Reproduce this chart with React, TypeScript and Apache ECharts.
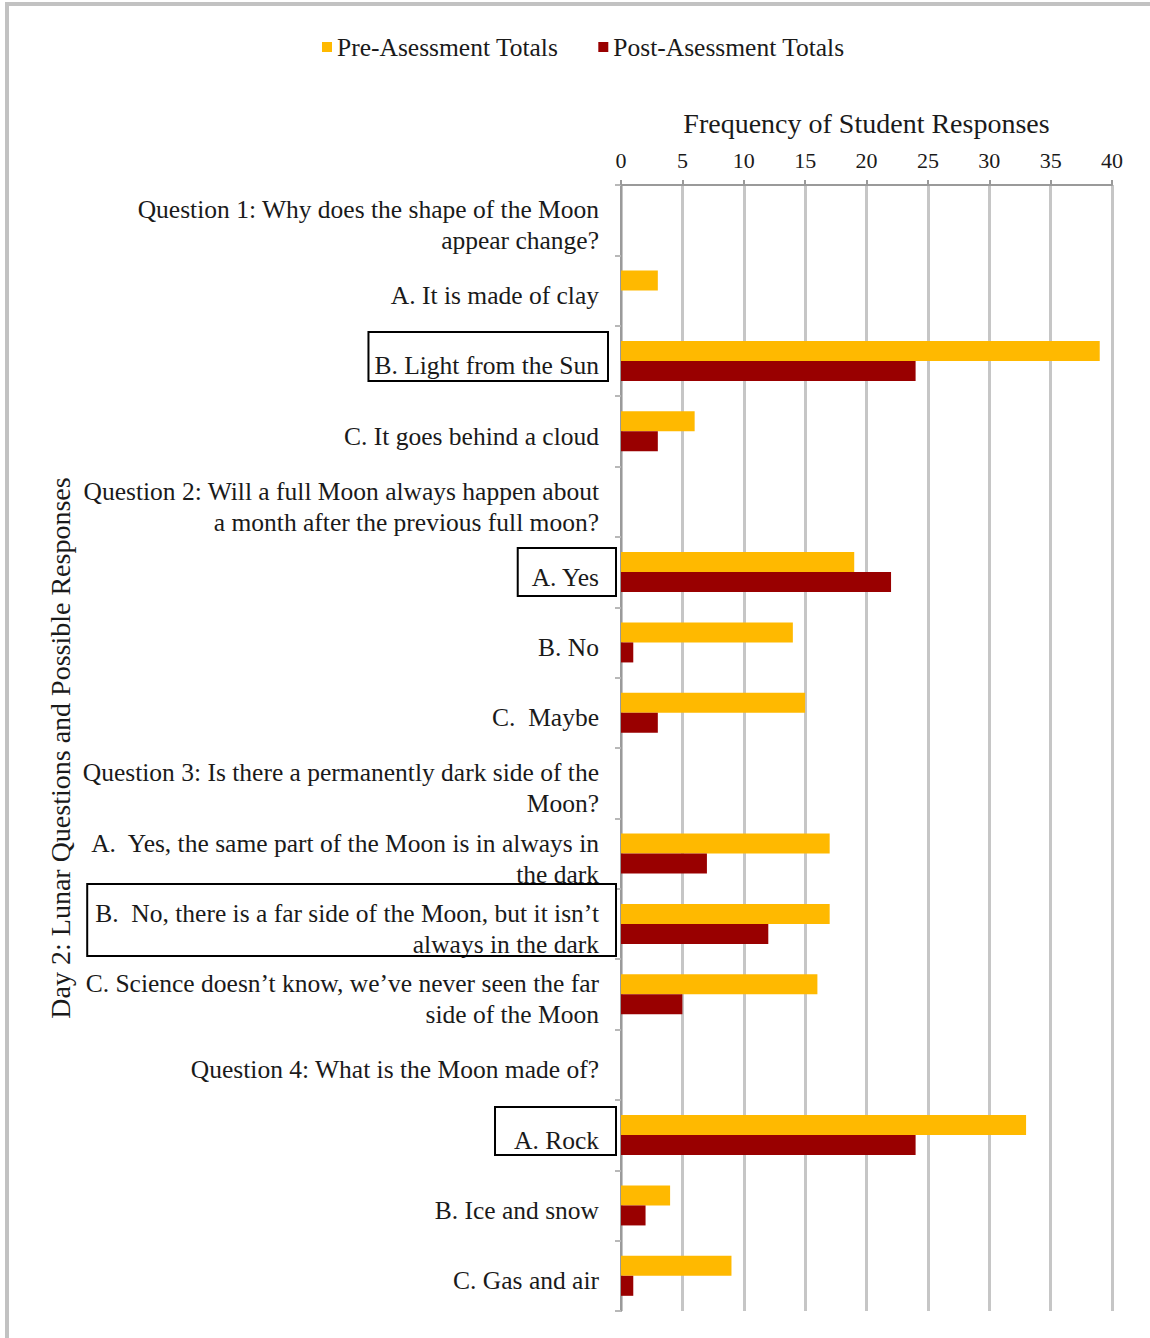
import React, { useEffect, useRef } from "react";
import * as echarts from "echarts";

const categories = [
  "Question 1: Why does the shape of the Moon\nappear change?",
  "A. It is made of clay",
  "B. Light from the Sun",
  "C. It goes behind a cloud",
  "Question 2: Will a full Moon always happen about\na month after the previous full moon?",
  "A. Yes",
  "B. No",
  "C.  Maybe",
  "Question 3: Is there a permanently dark side of the\nMoon?",
  "A.  Yes, the same part of the Moon is in always in\nthe dark",
  "B.  No, there is a far side of the Moon, but it isn’t\nalways in the dark",
  "C. Science doesn’t know, we’ve never seen the far\nside of the Moon",
  "Question 4: What is the Moon made of?",
  "A. Rock",
  "B. Ice and snow",
  "C. Gas and air",
];

const preTotals = [0, 3, 39, 6, 0, 19, 14, 15, 0, 17, 17, 16, 0, 33, 4, 9];
const postTotals = [0, 0, 24, 3, 0, 22, 1, 3, 0, 7, 12, 5, 0, 24, 2, 1];

const seriesNames = ["Pre-Asessment Totals", "Post-Asessment Totals"];
const xAxisTitle = "Frequency of Student Responses";
const yAxisTitle = "Day 2: Lunar Questions and Possible Responses";
const xMin = 0;
const xMax = 40;
const xStep = 5;

// categories whose labels are boxed (correct answers)
const boxedCategories = [2, 5, 10, 13];
// box styling around each boxed label
const boxPadLeft = [6, 13, 8, 19];
const boxGapRight = [13, 5, 5, 5];
const boxTopOffset = [-29, -24, -40, -28];
const boxHeight = [49, 48, 72, 48];

const FONT = "Liberation Serif";
const TEXT = "#1a1a1a";

export default function App() {
  const ref = useRef<HTMLDivElement>(null);

  useEffect(() => {
    const chart = echarts.init(ref.current!, null, { renderer: "svg" });
    const labelSize = 25.5;
    const labelMargin = 22;
    const labelDrop = 5;

    chart.setOption({
      animation: false,
      backgroundColor: "#ffffff",
      textStyle: { fontFamily: FONT, color: TEXT },
      legend: {
        top: 29,
        left: 317,
        itemWidth: 10,
        itemHeight: 10,
        itemGap: 40,
        icon: "rect",
        textStyle: { fontFamily: FONT, fontSize: 25.5, color: TEXT },
        data: seriesNames,
      },
      grid: { left: 621, right: 38, top: 185, bottom: 27, containLabel: false },
      xAxis: {
        type: "value",
        position: "top",
        min: xMin,
        max: xMax,
        interval: xStep,
        name: xAxisTitle,
        nameLocation: "middle",
        nameGap: 48,
        nameTextStyle: { fontFamily: FONT, fontSize: 28, color: TEXT },
        axisLine: { show: true, lineStyle: { color: "#9a9a9a", width: 2 } },
        axisTick: { show: true, length: 5, lineStyle: { color: "#9a9a9a", width: 2 } },
        axisLabel: { fontFamily: FONT, fontSize: 22, color: TEXT, margin: 14 },
        splitLine: { show: true, lineStyle: { color: "#c6c6c6", width: 3 } },
      },
      yAxis: {
        type: "category",
        inverse: true,
        data: categories,
        name: yAxisTitle,
        nameLocation: "middle",
        nameGap: 547,
        nameTextStyle: { fontFamily: FONT, fontSize: 28, color: TEXT },
        axisLine: { show: true, lineStyle: { color: "#9a9a9a", width: 2 } },
        axisTick: { show: true, length: 6, lineStyle: { color: "#b8b8b8", width: 2 } },
        axisLabel: { show: false },
        splitLine: { show: false },
      },
      series: [
        {
          name: seriesNames[0],
          type: "bar",
          data: preTotals,
          barWidth: 20,
          barGap: "0%",
          itemStyle: { color: "#FFB900" },
        },
        {
          name: seriesNames[1],
          type: "bar",
          data: postTotals,
          barWidth: 20,
          barGap: "0%",
          itemStyle: { color: "#990000" },
        },
      ],
    });

    const canvas = document.createElement("canvas");
    const ctx = canvas.getContext("2d")!;
    ctx.font = `${labelSize}px '${FONT}'`;
    const axisX = chart.convertToPixel({ xAxisIndex: 0 }, xMin) as number;
    const labelRight = axisX - labelMargin;

    // category labels placed from the category scale
    const labels = categories.map((cat) => {
      const cy = chart.convertToPixel({ yAxisIndex: 0 }, cat) as number;
      return {
        type: "text",
        x: labelRight,
        y: cy + labelDrop,
        style: {
          text: cat,
          fontFamily: FONT,
          fontSize: labelSize,
          lineHeight: 31,
          fill: TEXT,
          align: "right",
          verticalAlign: "middle",
        },
        z: 5,
      };
    });

    const boxes = boxedCategories.map((idx, i) => {
      const cat = categories[idx];
      const lines = cat.split("\n");
      const w = Math.max(...lines.map((l) => ctx.measureText(l).width));
      const cy = chart.convertToPixel({ yAxisIndex: 0 }, cat) as number;
      const left = labelRight - w - boxPadLeft[i];
      const right = axisX - boxGapRight[i];
      return {
        type: "rect",
        shape: { x: left, y: cy + boxTopOffset[i], width: right - left, height: boxHeight[i] },
        style: { fill: "none", stroke: "#000", lineWidth: 2 },
        z: 10,
      };
    });

    chart.setOption({
      graphic: [
        { type: "line", shape: { x1: 5, y1: 4, x2: 1150, y2: 4 }, style: { stroke: "#c2c2c2", lineWidth: 4 } },
        { type: "line", shape: { x1: 7, y1: 2, x2: 7, y2: 1338 }, style: { stroke: "#c2c2c2", lineWidth: 4 } },
        ...labels,
        ...boxes,
      ],
    });

    return () => chart.dispose();
  }, []);

  return (
    <div
      ref={ref}
      style={{ position: "absolute", left: 0, top: 0, width: 1150, height: 1338 }}
    />
  );
}
